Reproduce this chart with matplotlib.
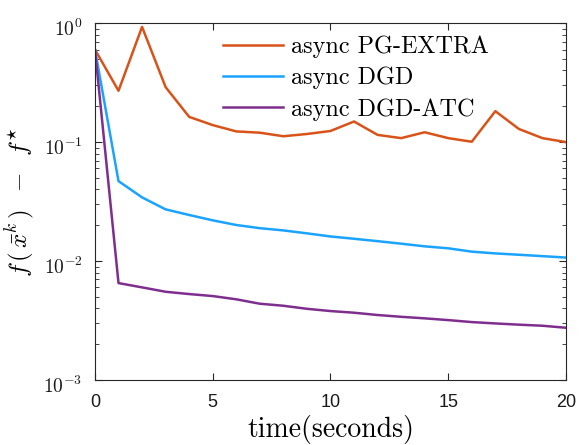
import numpy as np
import matplotlib
matplotlib.use("Agg")
import matplotlib.pyplot as plt
import matplotlib.transforms as mtransforms
from matplotlib.ticker import LogLocator, NullFormatter

plt.rcParams['font.family'] = ['Liberation Sans', 'DejaVu Sans']
plt.rcParams['mathtext.fontset'] = 'cm'

# --- data ---
t = np.arange(0, 21)
pg_extra = [0.60, 0.27, 0.93, 0.29, 0.163, 0.139, 0.123, 0.120, 0.112, 0.117,
            0.124, 0.149, 0.115, 0.108, 0.121, 0.108, 0.1007, 0.182, 0.129,
            0.108, 0.100]
dgd = [0.60, 0.047, 0.0343, 0.0272, 0.0244, 0.0220, 0.0201, 0.0189, 0.0181,
       0.0171, 0.0161, 0.0154, 0.0147, 0.0140, 0.0133, 0.0128, 0.0120, 0.0116,
       0.0113, 0.0110, 0.0107]
dgd_atc = [0.60, 0.00653, 0.00601, 0.00552, 0.00528, 0.00508, 0.00477,
           0.00438, 0.00421, 0.00397, 0.00380, 0.00368, 0.00352, 0.00340,
           0.00330, 0.00319, 0.00307, 0.00299, 0.00292, 0.00286, 0.00275]
labels = ['async PG-EXTRA', 'async DGD', 'async DGD-ATC']
colors = ['#D95319', '#1AA3FF', '#7E2F8E']
yticks = [1e-3, 1e-2, 1e-1, 1e0]
ytick_labels = [r'$\mathsf{10^{-3}}$', r'$\mathsf{10^{-2}}$',
                r'$\mathsf{10^{-1}}$', r'$\mathsf{10^{0}}$']

fig = plt.figure(figsize=(5.79, 4.45), dpi=100)
ax = fig.add_axes([0.164, 0.146, 0.8135, 0.802])

for y, lab, c in zip([pg_extra, dgd, dgd_atc], labels, colors):
    ax.plot(t, y, color=c, linewidth=1.8, label=lab)

ax.set_yscale('log')
ax.set_xlim(0, 20)
ax.set_ylim(1e-3, 1e0)
ax.set_xticks([0, 5, 10, 15, 20])
ax.set_yticks(yticks)
ax.set_yticklabels(ytick_labels, fontsize=14)
ax.yaxis.set_minor_locator(LogLocator(base=10, subs=np.arange(2, 10)))
ax.yaxis.set_minor_formatter(NullFormatter())

edge = '#262626'
for s in ax.spines.values():
    s.set_color(edge)
    s.set_linewidth(0.8)
ax.tick_params(which='both', direction='in', top=True, right=True,
               colors=edge, labelcolor='#1a1a1a')
ax.tick_params(which='major', length=5)
ax.tick_params(which='minor', length=3)
ax.tick_params(axis='x', labelsize=13, pad=10)
ax.tick_params(axis='y', pad=9)

# matlab puts the "10" a bit below the tick, exponent above
shift = mtransforms.ScaledTranslation(0, -3 / 72, fig.dpi_scale_trans)
for lbl in ax.get_yticklabels():
    lbl.set_transform(lbl.get_transform() + shift)

ax.set_xlabel('time(seconds)', fontfamily='cmr10', fontsize=20, labelpad=3)
ax.set_ylabel(r'$f\,(\,\bar{x}^{k}\,)\;\;-\;\;f^{\star}$', fontsize=18,
              labelpad=5)

leg = ax.legend(loc='upper left', bbox_to_anchor=(0.251, 0.992), frameon=False,
                prop={'family': 'cmr10', 'size': 17.4}, handlelength=2.5,
                handletextpad=0.3, labelspacing=0.36, borderaxespad=0)

fig.savefig('out.png', dpi=100)
